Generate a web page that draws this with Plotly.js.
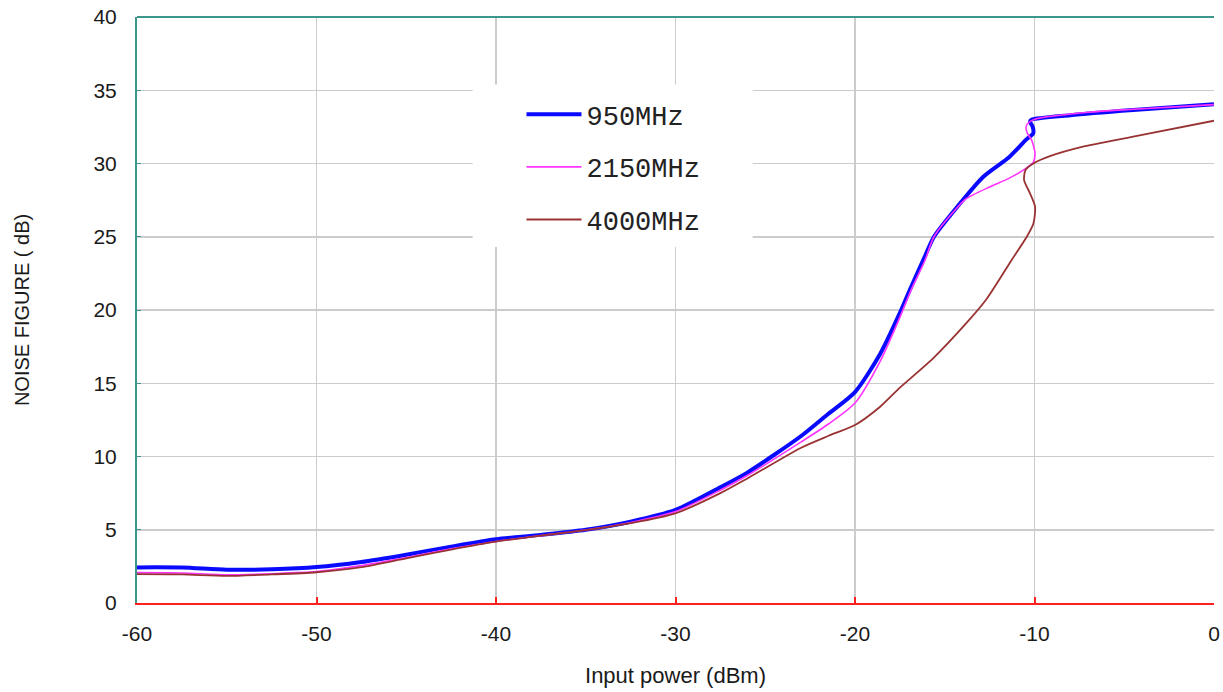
<!DOCTYPE html>
<html>
<head>
<meta charset="utf-8">
<script src="https://cdn.plot.ly/plotly-3.0.1.min.js"></script>
<style>html,body{margin:0;padding:0;background:#fff;}#chart{width:1223px;height:692px;}</style>
</head>
<body>
<div id="chart"></div>
<script>
// 950MHz
const x950 = [-60,-57.5,-55,-52.5,-50,-47.5,-45,-42.5,-40,-37.5,-35,-32.5,-30,-27.5,-26,-23,-21.5,-20,-18.6,-17.5,-16.9,-16.2,-15.6,-14.3,-12.85,-11.4,-10.45,-10.07,-10.1,-10.25,-10.15,-8,-4.5,0];
const y950 = [2.43,2.42,2.27,2.3,2.45,2.8,3.3,3.85,4.35,4.65,5.0,5.55,6.35,7.9,8.9,11.4,12.9,14.4,17.0,19.8,21.5,23.4,25.0,27.05,29.1,30.45,31.65,32.07,32.5,32.87,33.0,33.3,33.65,34.04];
// 2150MHz
const x2150 = [-60,-57.5,-55,-52.5,-50,-47.5,-45,-42.5,-40,-37.5,-35,-32.5,-30,-27.5,-26,-23,-21.5,-20,-18.6,-17.5,-16.9,-16.1,-15.6,-14.3,-13.8,-12.5,-11.4,-10.5,-10.06,-9.97,-10.16,-10.4,-10.47,-10.34,-9.9,-7,-4.5,0];
const y2150 = [2.07,2.05,1.92,2.0,2.14,2.55,3.1,3.7,4.2,4.6,4.98,5.5,6.24,7.7,8.7,11.0,12.2,13.65,16.5,19.5,21.3,23.4,25.0,27.0,27.6,28.4,29.0,29.65,30.1,30.7,31.6,32.07,32.5,32.78,33.05,33.5,33.7,34.02];
// 4000MHz
const x4000 = [-60,-57.5,-55,-52.5,-50,-47.5,-45,-42.5,-40,-37.5,-35,-32.5,-30,-27.5,-26,-23,-21.5,-20,-18.6,-17.5,-15.65,-13.8,-12.7,-11.28,-10.43,-10.06,-9.97,-10.25,-10.58,-10.5,-10.06,-9.14,-7.3,-4.5,0];
const y4000 = [1.97,1.95,1.85,1.95,2.1,2.45,3.05,3.65,4.19,4.6,4.97,5.45,6.12,7.5,8.5,10.6,11.4,12.15,13.4,14.7,16.7,19.1,20.7,23.4,25.0,25.9,27.05,27.96,28.87,29.56,30.0,30.5,31.15,31.83,32.92];

const seriesNames = ['950MHz','2150MHz','4000MHz'];
const xTicks = [-60,-50,-40,-30,-20,-10,0];
const yTicks = [0,5,10,15,20,25,30,35,40];
// white area behind the legend (x range, y range)
const legendBoxX = [-41.3, -25.7];
const legendBoxY = [24.3, 35.4];

const traces = [
  {x:x950, y:y950, name:seriesNames[0], legendgroup:'a', mode:'lines', line:{color:'#0a0aff', width:4, shape:'spline', smoothing:0.7}},
  {x:x2150, y:y2150, name:seriesNames[1], legendgroup:'b', mode:'lines', line:{color:'#ff33ff', width:1.6, shape:'spline', smoothing:0.7}},
  {x:x4000, y:y4000, name:seriesNames[2], legendgroup:'c', mode:'lines', line:{color:'#993333', width:1.8, shape:'spline', smoothing:0.7}}
];

const layout = {
  width:1223, height:692,
  margin:{l:137, r:9, t:17, b:89},
  paper_bgcolor:'#fff', plot_bgcolor:'#fff',
  showlegend:true,
  font:{family:'Liberation Sans, Arial, sans-serif', color:'#1a1a1a'},
  xaxis:{
    range:[-60,0], tickvals:xTicks, ticktext:xTicks.map(String),
    showgrid:true, gridcolor:'#cccccc', gridwidth:1.5, zeroline:false,
    showline:true, linecolor:'#ff2020', linewidth:2,
    ticks:'inside', ticklen:6, tickcolor:'#ff2020', tickwidth:2,
    tickfont:{size:21, color:'#1a1a1a'}, ticklabelstandoff:11,
    title:{text:'Input power (dBm)', font:{size:22, color:'#1a1a1a'}, standoff:23}
  },
  yaxis:{
    range:[0,40], tickvals:yTicks, ticktext:yTicks.map(String),
    showgrid:true, gridcolor:'#cccccc', gridwidth:1.5, zeroline:false,
    showline:true, linecolor:'#3c968c', linewidth:2,
    ticks:'inside', ticklen:4, tickcolor:'#3c968c', tickwidth:1,
    tickfont:{size:21, color:'#1a1a1a'}, ticklabelstandoff:14,
    title:{text:'NOISE FIGURE ( dB)', font:{size:20, color:'#1a1a1a'}, standoff:58}
  },
  legend:{
    x:0.357, y:0.875, xanchor:'left', yanchor:'top',
    bgcolor:'#ffffff', borderwidth:0,
    font:{family:'Liberation Mono, monospace', size:27, color:'#222'},
    traceorder:'grouped', tracegroupgap:14.5, itemwidth:55
  },
  shapes:[
    {type:'line', xref:'paper', yref:'paper', x0:0, x1:1, y0:1, y1:1, line:{color:'#3c968c', width:2}},
    {type:'rect', xref:'x', yref:'y', layer:'between', x0:legendBoxX[0], x1:legendBoxX[1], y0:legendBoxY[0], y1:legendBoxY[1], fillcolor:'#ffffff', line:{width:0}}
  ]
};

Plotly.newPlot('chart', traces, layout, {displayModeBar:false, staticPlot:true});
</script>
</body>
</html>
